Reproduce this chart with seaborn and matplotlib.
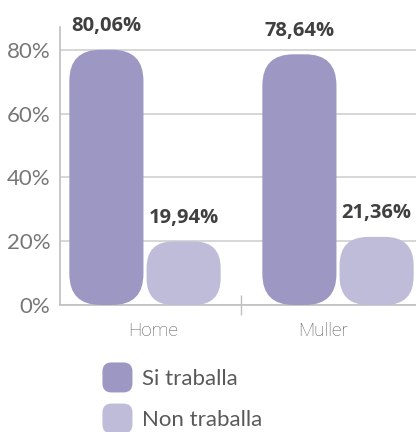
import matplotlib
matplotlib.use("Agg")
import matplotlib.pyplot as plt
import matplotlib.patches as mpatches
from matplotlib.legend_handler import HandlerPatch
import seaborn as sns
import pandas as pd

categories = ["Home", "Muller"]
series_names = ["Si traballa", "Non traballa"]
si_values = [80.06, 78.64]
non_values = [19.94, 21.36]
y_ticks = [0, 20, 40, 60, 80]
colors = ["#9D98C3", "#BFBCD9"]

df = pd.DataFrame({
    "cat": categories * 2,
    "status": [series_names[0]] * 2 + [series_names[1]] * 2,
    "val": si_values + non_values,
})

sns.set_theme(style="white")
plt.rcParams["font.family"] = ["Lato", "DejaVu Sans"]

fig = plt.figure(figsize=(4.16, 4.32), dpi=100)
ax = fig.add_axes([60 / 416, 127 / 432, 356 / 416, 278 / 432])

sns.barplot(data=df, x="cat", y="val", hue="status", palette=colors,
            width=0.8, gap=0.04, legend=False, ax=ax, saturation=1)

x_left = -85 / 193
x_right = 1 + 78 / 193
ax.set_xlim(x_left, x_right)
ax.set_ylim(0, 87.2)

# round the bars
fig.canvas.draw()
bars = [p for p in ax.patches]
px_x = ax.transData.transform((1, 0))[0] - ax.transData.transform((0, 0))[0]
px_y = ax.transData.transform((0, 1))[1] - ax.transData.transform((0, 0))[1]
bar_info = []
for p in bars:
    x, y, w, h = p.get_x(), p.get_y(), p.get_width(), p.get_height()
    fc = p.get_facecolor()
    p.remove()
    wpx, hpx = w * px_x, h * px_y
    r_px = 0.42 * min(wpx, hpx)
    r_x = r_px / px_x
    r_y = r_px / px_y
    fb = mpatches.FancyBboxPatch((x, y), w, h,
                                 boxstyle=f"round,pad=0,rounding_size={r_x}",
                                 mutation_aspect=r_y / r_x,
                                 fc=fc, ec="none", zorder=3)
    ax.add_patch(fb)
    bar_info.append((x + w / 2, h))

for cx, h in bar_info:
    ax.annotate(f"{h:.2f}".replace(".", ",") + "%", (cx, h), xytext=(0, 17),
                textcoords="offset points", ha="center", va="center",
                fontsize=14.5, fontweight="bold", color="#404040",
                family=["Open Sans", "DejaVu Sans"], annotation_clip=False)

ax.set_yticks(y_ticks)
ax.set_yticklabels([f"{t}%" for t in y_ticks])
ax.yaxis.grid(True, color="#CFCFCF", linewidth=1.2)
ax.set_axisbelow(True)
ax.tick_params(axis="y", length=0, pad=7, labelsize=16, labelcolor="#777777")

ax.set_xticks([0.04, 0.92])
ax.set_xticklabels(categories)
ax.tick_params(axis="x", length=0, pad=12, labelsize=13.5, labelcolor="#595959")
for lab in ax.get_xticklabels():
    lab.set_family(["Roboto", "DejaVu Sans"])
    lab.set_fontweight("light")
ax.set_xticks([0.5], minor=True)
ax.tick_params(axis="x", which="minor", bottom=True, direction="inout",
               length=14, width=1, color="#BFBFBF")

ax.set_xlabel("")
ax.set_ylabel("")
for s in ["top", "right"]:
    ax.spines[s].set_visible(False)
for s in ["left", "bottom"]:
    ax.spines[s].set_color("#BFBFBF")
    ax.spines[s].set_linewidth(1.2)


class RoundHandler(HandlerPatch):
    def create_artists(self, legend, orig_handle, xdescent, ydescent,
                       width, height, fontsize, trans):
        r = min(width, height) * 0.3
        p = mpatches.FancyBboxPatch((-xdescent, -ydescent), width, height,
                                    boxstyle=f"round,pad=0,rounding_size={r}",
                                    fc=orig_handle.get_facecolor(), ec="none",
                                    transform=trans)
        return [p]


handles = [mpatches.Patch(facecolor=c, label=n) for c, n in zip(colors, series_names)]
leg = fig.legend(handles=handles, loc="upper left",
                 bbox_to_anchor=(98 / 416, 1 - 358 / 432), frameon=False,
                 handler_map={mpatches.Patch: RoundHandler()},
                 handlelength=1.35, handleheight=1.7, handletextpad=0.45,
                 labelspacing=0.5, prop={"size": 16},
                 labelcolor="#595959", borderaxespad=0, borderpad=0.2)

fig.savefig("out.png", dpi=100)
